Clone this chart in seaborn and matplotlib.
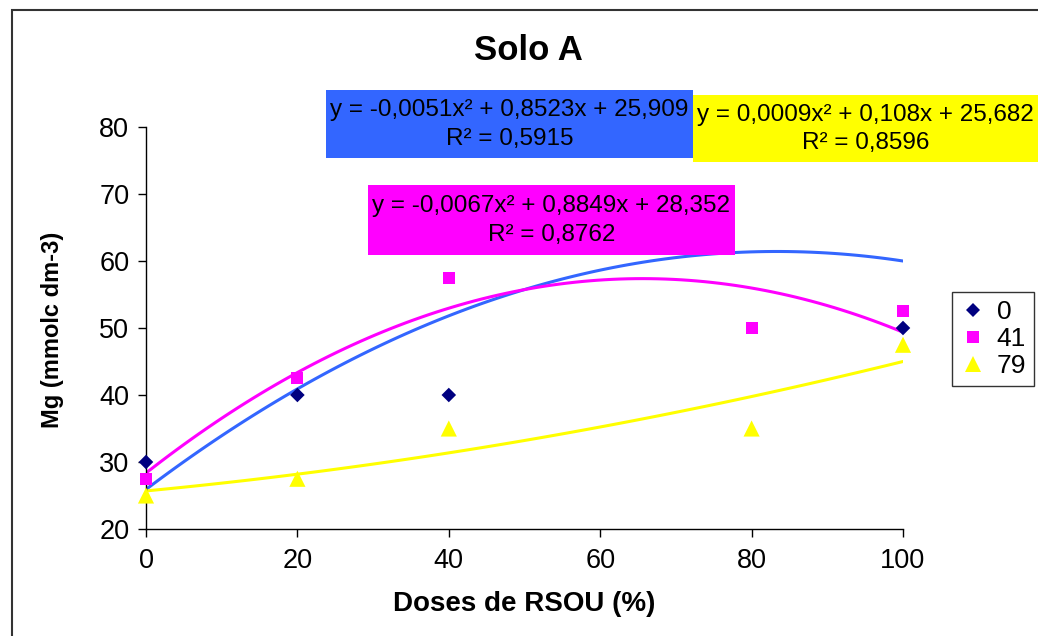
import numpy as np
import pandas as pd
import seaborn as sns
from matplotlib import pyplot as plt
from matplotlib.patches import Rectangle

# Data
doses = [0, 20, 40, 80, 100]
mg_0 = [30, 40, 40, 80, 50]
mg_41 = [27.5, 42.5, 57.5, 50, 52.5]
mg_79 = [25, 27.5, 35, 35, 47.5]
series_names = ["0", "41", "79"]
point_colors = ["#000080", "#FF00FF", "#FFFF00"]
line_colors = ["#3366FF", "#FF00FF", "#FFFF00"]
markers = ["D", "s", "^"]
marker_sizes = [55, 75, 135]
equations = [
    ("y = -0,0051x² + 0,8523x + 25,909", "R² = 0,5915"),
    ("y = -0,0067x² + 0,8849x + 28,352", "R² = 0,8762"),
    ("y = 0,0009x² + 0,108x + 25,682", "R² = 0,8596"),
]

sns.set_style("white")
plt.rcParams["font.family"] = ["Liberation Sans", "DejaVu Sans"]
for k in ["text.color", "axes.labelcolor", "xtick.color", "ytick.color"]:
    plt.rcParams[k] = "black"

df = pd.DataFrame({
    "dose": doses * 3,
    "mg": mg_0 + mg_41 + mg_79,
    "serie": [n for n in series_names for _ in doses],
})

W, H = 1038, 636
fig = plt.figure(figsize=(W / 100, H / 100), dpi=100)
ax = fig.add_axes([146 / W, 1 - 529 / H, (903 - 146) / W, (529 - 127) / H])

# Trend lines (2nd order polynomial fits)
for name, col in zip(series_names, line_colors):
    sub = df[df["serie"] == name]
    sns.regplot(data=sub, x="dose", y="mg", order=2, ci=None, scatter=False,
                ax=ax, line_kws=dict(color=col, lw=2.2), truncate=True)

# Points
sns.scatterplot(data=df, x="dose", y="mg", hue="serie", style="serie", size="serie",
                palette=point_colors, markers=markers,
                sizes=dict(zip(series_names, marker_sizes)), linewidth=0,
                ax=ax, clip_on=False, zorder=4)

ax.set_xlim(0, 100)
ax.set_ylim(20, 80)
ax.set_xticks(np.arange(0, 101, 20))
ax.set_yticks(np.arange(20, 81, 10))
ax.tick_params(axis="both", labelsize=19.5, length=6, width=1, direction="out",
               left=True, bottom=True, color="black")
ax.tick_params(axis="y", pad=6)
ax.tick_params(axis="x", pad=8)
for s in ["top", "right"]:
    ax.spines[s].set_visible(False)
for s in ["left", "bottom"]:
    ax.spines[s].set_color("black")
    ax.spines[s].set_linewidth(1)

ax.set_xlabel("Doses de RSOU (%)", fontsize=20, fontweight="bold")
ax.xaxis.set_label_coords(0.5, -0.155)
ax.set_ylabel("Mg (mmolc dm-3)", fontsize=17, fontweight="bold")
ax.yaxis.set_label_coords(-0.108, 0.495)
fig.text(528 / W, 1 - 50 / H, "Solo A", fontsize=25, fontweight="bold",
         ha="center", va="center")

# Legend
handles, labels = ax.get_legend_handles_labels()
leg = ax.legend(handles, labels, loc="upper left", borderaxespad=0,
                bbox_to_anchor=(952 / W, 1 - 292 / H), bbox_transform=fig.transFigure,
                fontsize=19, frameon=True, fancybox=False, edgecolor="black",
                handletextpad=0.4, handlelength=1.0, borderpad=0.3, labelspacing=0.12,
                title=None)
leg.get_frame().set_linewidth(1)

# Equation boxes (pixel boxes: x0, y0, x1, y1)
boxes = [(326, 90, 693, 158), (368, 185, 735, 255), (693, 95, 1038, 162)]
for (x0, y0, x1, y1), col, (eq, r2) in zip(boxes, line_colors, equations):
    fig.add_artist(Rectangle((x0 / W, 1 - y1 / H), (x1 - x0) / W, (y1 - y0) / H,
                             transform=fig.transFigure, facecolor=col,
                             edgecolor="none", zorder=10))
    xc = (x0 + x1) / 2 / W
    fig.text(xc, 1 - (y0 + 0.30 * (y1 - y0)) / H, eq, fontsize=17.5,
             ha="center", va="center", zorder=11)
    fig.text(xc, 1 - (y0 + 0.72 * (y1 - y0)) / H, r2, fontsize=17.5,
             ha="center", va="center", zorder=11)

# Outer chart frame
fig.add_artist(Rectangle((12 / W, -0.05), 1.1, 1 - 10 / H + 0.05,
                         transform=fig.transFigure, facecolor="none",
                         edgecolor="#333333", lw=1.5, zorder=12))

fig.savefig("out.png", dpi=100)
